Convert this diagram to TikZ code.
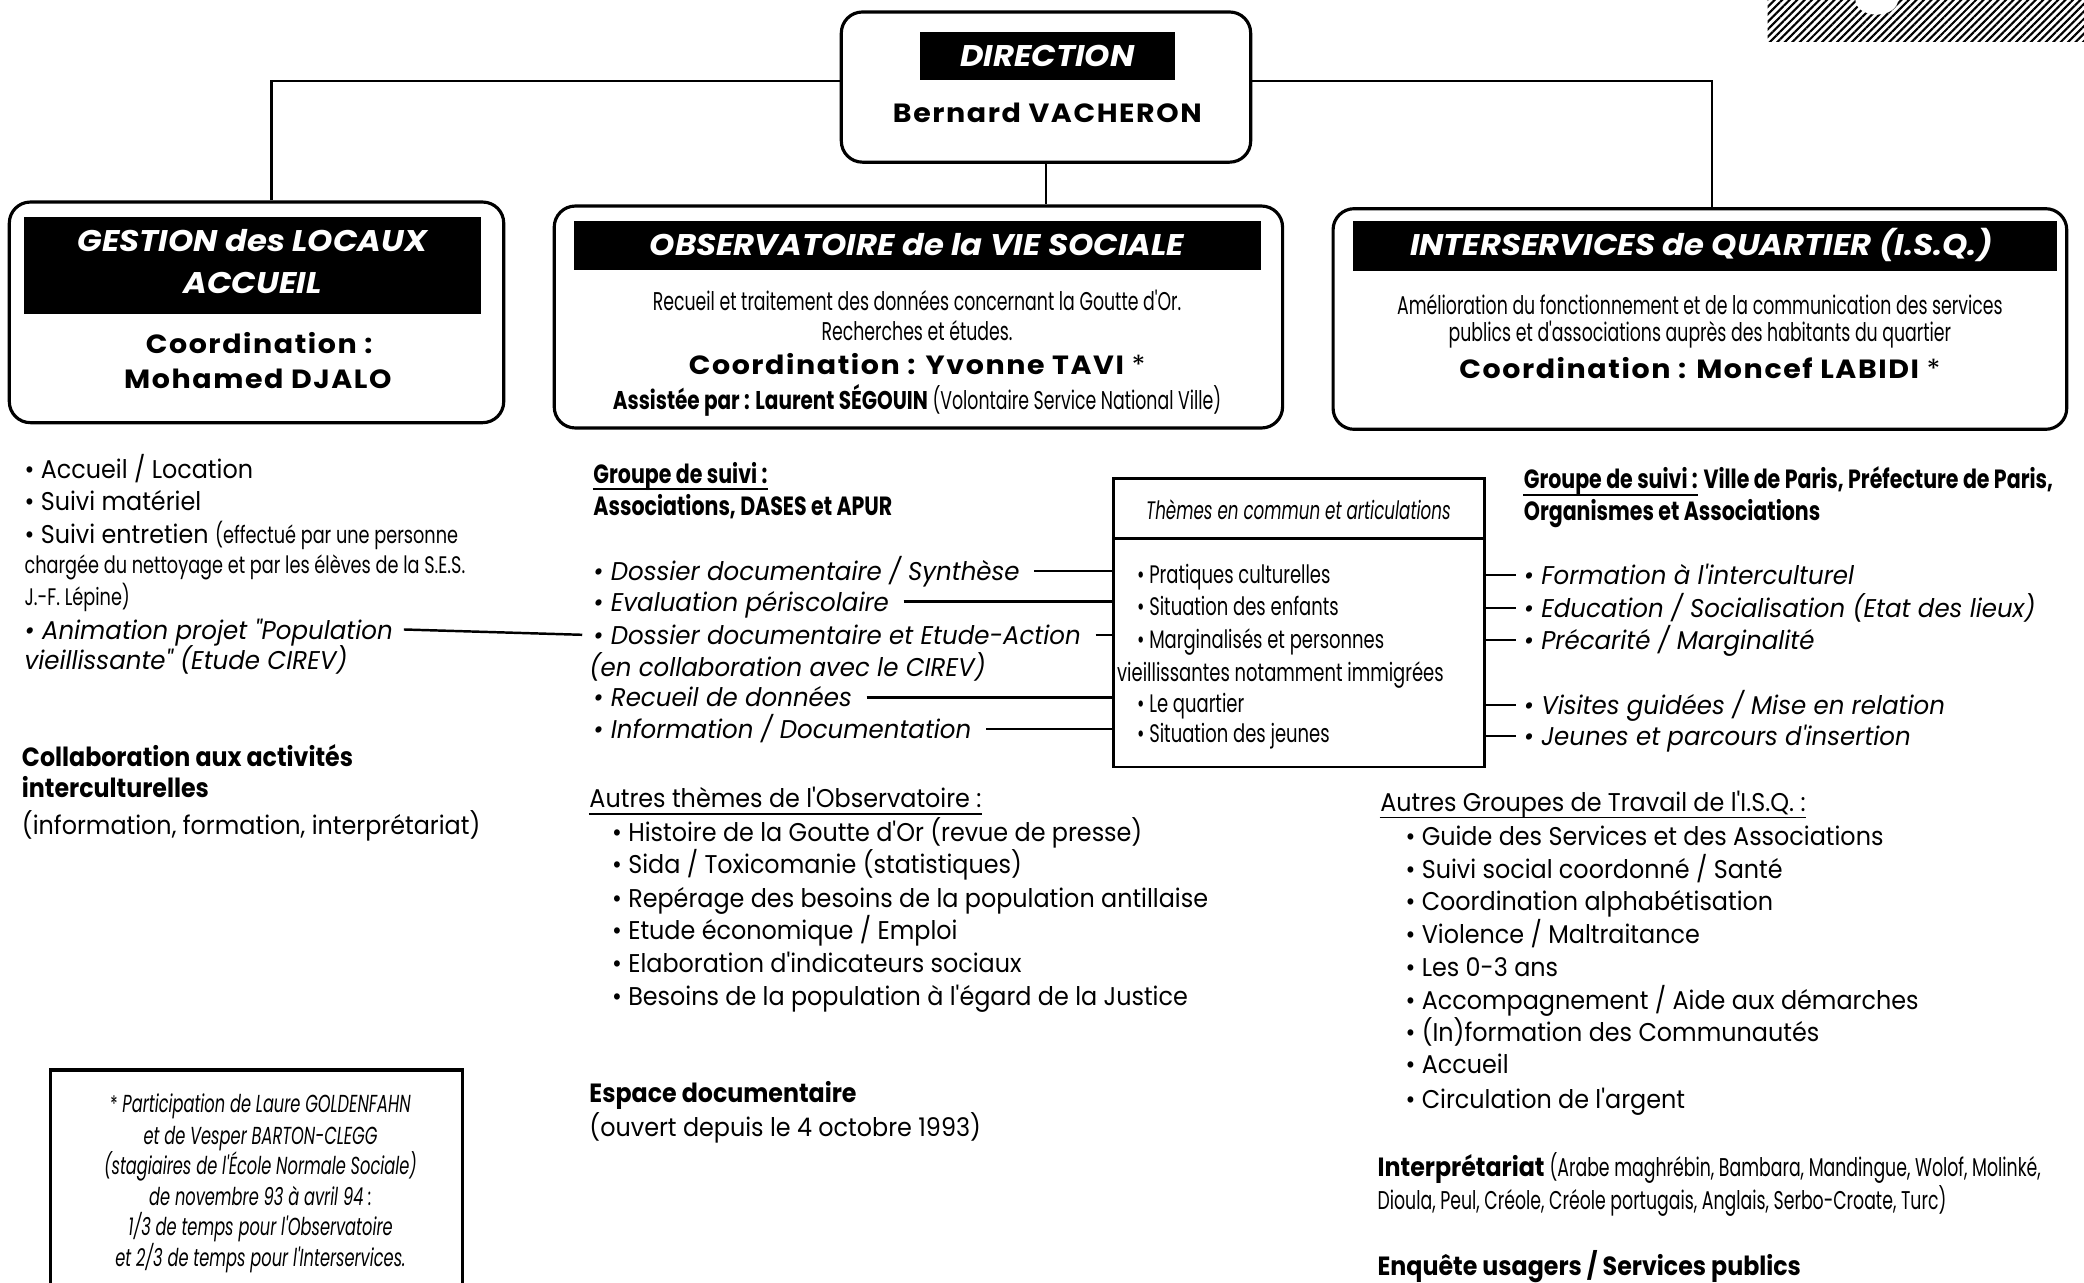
\documentclass[tikz,border=0pt]{standalone}
\usepackage{fontspec}
\setmainfont{Poppins}
\newfontfamily\fbody{Poppins}[FakeStretch=0.93]
\newfontfamily\fital{Poppins}[FakeStretch=0.955]
\newfontfamily\fcond{Poppins}[FakeStretch=0.675]
\newfontfamily\fsmall{Poppins}[FakeStretch=0.74]
\newfontfamily\fthm{Poppins}[FakeStretch=0.71]
\newfontfamily\fftn{Poppins}[FakeStretch=0.66]
\newfontfamily\fbcond{Poppins}[FakeStretch=0.78]
\newfontfamily\fbmed{Poppins}[FakeStretch=0.9]
\newfontfamily\fhead{Poppins}[FakeStretch=1.08]
\newfontfamily\fheavy{Poppins}[FakeStretch=1.08,LetterSpace=6]
\newcommand\astk{{\fontsize{7.5}{7.5}\selectfont\mdseries *}}
\usetikzlibrary{fit,patterns.meta}
\begin{document}
\begin{tikzpicture}[x=0.01329cm,y=-0.01329cm,
  rbox/.style={draw,line width=0.9pt,rounded corners=6pt,inner sep=0pt},
  sbox/.style={draw,line width=0.8pt,inner sep=0pt},
  bar/.style={fill=black,inner sep=0pt},
  headtxt/.style={text=white,font=\fhead\bfseries\itshape\fontsize{8.5}{10}\selectfont,inner sep=0pt},
  heavy/.style={font=\fheavy\bfseries\fontsize{7.5}{9}\selectfont,inner sep=0pt},
  cond/.style={font=\fcond\fontsize{7.3}{9}\selectfont,inner sep=0pt},
  body/.style={font=\fbody\fontsize{7.3}{9}\selectfont,inner sep=0pt,anchor=base west,yshift=-0.7pt},
  ital/.style={font=\fital\itshape\fontsize{7.3}{9}\selectfont,inner sep=0pt,anchor=base west,yshift=-0.7pt},
  small/.style={font=\fsmall\fontsize{6.8}{8}\selectfont,inner sep=0pt,anchor=base west,yshift=-0.7pt},
  bcond/.style={font=\fbcond\bfseries\fontsize{7.5}{9}\selectfont,inner sep=0pt,anchor=base west,yshift=-0.7pt},
  bmed/.style={font=\fbmed\bfseries\fontsize{7.5}{9}\selectfont,inner sep=0pt,anchor=base west,yshift=-0.7pt},
  thm/.style={font=\fthm\fontsize{7.2}{9}\selectfont,inner sep=0pt,anchor=base west,yshift=-0.7pt},
  thmh/.style={font=\fftn\itshape\fontsize{7.2}{9}\selectfont,inner sep=0pt,anchor=base,yshift=-0.7pt},
  ftn/.style={font=\fftn\itshape\fontsize{7}{9}\selectfont,inner sep=0pt,anchor=base,yshift=-0.7pt},
  ul/.style={line width=0.55pt},
  conn/.style={line width=0.7pt}]
\useasboundingbox (0,0) rectangle (1568,965);

% hatched corner
\fill[pattern={Lines[angle=45,distance=1.5pt,line width=0.6pt]}] (1330,0) rectangle (1568,31);
\fill[white] (1412,0) ellipse [x radius=16, y radius=11];

% DIRECTION
\node[rbox,fit={(633,9)(941,122)}] (dir) {};
\node[bar,fit={(692,24)(884,60)}] (dirbar) {};
\node[headtxt] (dirt) at (dirbar.center) {DIRECTION};
\node[heavy] (dirn) at (788,85) {Bernard VACHERON};

% GESTION
\node[rbox,fit={(7,152)(379,318)}] (gest) {};
\node[bar,fit={(18,163)(362,236)}] (gestbar) {};
\node[headtxt] (gestt1) at (190,181) {GESTION des LOCAUX};
\node[headtxt] (gestt2) at (190,213) {ACCUEIL};
\node[heavy] (gestc1) at (195,258) {Coordination :};
\node[heavy] (gestc2) at (194,285) {Mohamed DJALO};

% OBSERVATOIRE
\node[rbox,fit={(417,155)(965,322)}] (obs) {};
\node[bar,fit={(432,166)(949,203)}] (obsbar) {};
\node[headtxt] (obst) at (690,184) {OBSERVATOIRE de la VIE SOCIALE};
\node[cond] (obs1) at (690,226) {Recueil et traitement des données concernant la Goutte d'Or.};
\node[cond] (obs2) at (690,249) {Recherches et études.};
\node[heavy] (obs3) at (690,274) {Coordination : Yvonne TAVI \astk};
\node[cond] (obs4) at (690,301) {{\fbcond\bfseries Assistée par : Laurent SÉGOUIN} (Volontaire Service National Ville)};

% ISQ
\node[rbox,fit={(1003,157)(1555,323)}] (isq) {};
\node[bar,fit={(1018,166)(1548,204)}] (isqbar) {};
\node[headtxt] (isqt) at (1280,184) {INTERSERVICES de QUARTIER (I.S.Q.)};
\node[cond] (isq1) at (1279,229) {Amélioration du fonctionnement et de la communication des services};
\node[cond] (isq2) at (1279,252) {publics et d'associations auprès des habitants du quartier};
\node[heavy] (isq3) at (1279,277) {Coordination : Moncef LABIDI \astk};

% connectors top
\draw[conn] ([yshift=1.7pt]dir.west) -| ([xshift=4.2pt]gest.north);
\draw[conn] ([yshift=1.7pt]dir.east) -| ([xshift=3.4pt]isq.north);
\draw[conn] (dir.south) -- (dir.south |- obs.north);

% left column
\node[body] (l1) at (18,358) {• Accueil / Location};
\node[body] (l2) at (18,382) {• Suivi matériel};
\node[body] (l3) at (18,407) {• Suivi entretien {\fsmall\fontsize{6.8}{8}\selectfont (effectué par une personne}};
\node[small] (l4) at (18,430) {chargée du nettoyage et par les élèves de la S.E.S.};
\node[small] (l5) at (18,454) {J.-F. Lépine)};
\node[ital] (l6) at (18,479) {• Animation projet "Population};
\node[ital] (l7) at (18,502) {vieillissante" (Etude CIREV)};
\node[bmed] (l8) at (16,575) {Collaboration aux activités};
\node[bmed] (l9) at (16,598) {interculturelles};
\node[body] (l10) at (16,626) {(information, formation, interprétariat)};

% footnote box
\draw[line width=1pt] (38,966) -- (38,805) coordinate (fnl) -- (348,805) coordinate (fnr) -- (348,966);
\node[ftn] (f1) at (196,835) {{\fontsize{6.5}{6.5}\selectfont\upshape *} Participation de Laure GOLDENFAHN};
\node[ftn] (f2) at (196,859) {et de Vesper BARTON-CLEGG};
\node[ftn] (f3) at (196,882) {(stagiaires de l'École Normale Sociale)};
\node[ftn] (f4) at (196,905) {de novembre 93 à avril 94 :};
\node[ftn] (f5) at (196,928) {1/3 de temps pour l'Observatoire};
\node[ftn] (f6) at (196,951) {et 2/3 de temps pour l'Interservices.};

% middle column
\node[bcond] (g1) at (446,362) {Groupe de suivi :};
\draw[ul] ([yshift=-1.6pt]g1.base west) -- ([yshift=-1.6pt]g1.base east);
\node[bcond] (g2) at (446,386) {Associations, DASES et APUR};
\node[ital] (m1) at (446,435) {• Dossier documentaire / Synthèse};
\node[ital] (m2) at (446,458) {• Evaluation périscolaire};
\node[ital] (m3) at (446,483) {• Dossier documentaire et Etude-Action};
\node[ital] (m4) at (443,507) {(en collaboration avec le CIREV)};
\node[ital] (m5) at (446,530) {• Recueil de données};
\node[ital] (m6) at (446,554) {• Information / Documentation};

% themes box
\node[sbox,fit={(838,360)(1117,577)}] (th) {};
\coordinate (thd) at (838,405);
\draw[line width=0.8pt] (thd) -- (thd -| th.east);
\node[thmh] (th0) at (977,389) {Thèmes en commun et articulations};
\node[thm] (t1) at (855,437) {• Pratiques culturelles};
\node[thm] (t2) at (855,461) {• Situation des enfants};
\node[thm] (t3) at (855,486) {• Marginalisés et personnes};
\node[thm] (t4) at (840,511) {vieillissantes notamment immigrées};
\node[thm] (t5) at (855,534) {• Le quartier};
\node[thm] (t6) at (855,557) {• Situation des jeunes};

% right column
\node[bcond] (h1) at (1146,366) {Groupe de suivi :};
\draw[ul] ([yshift=-1.6pt]h1.base west) -- ([yshift=-1.6pt]h1.base east);
\node[bcond,yshift=0.7pt] (h1b) at (h1.base east) {\ Ville de Paris, Préfecture de Paris,};
\node[bcond] (h2) at (1146,390) {Organismes et Associations};
\node[ital] (r1) at (1146,438) {• Formation à l'interculturel};
\node[ital] (r2) at (1146,463) {• Education / Socialisation (Etat des lieux)};
\node[ital] (r3) at (1146,487) {• Précarité / Marginalité};
\node[ital] (r4) at (1146,536) {• Visites guidées / Mise en relation};
\node[ital] (r5) at (1146,559) {• Jeunes et parcours d'insertion};

% connectors to themes box
\draw[conn] ([xshift=3pt]l6.mid east) -- ([xshift=-3pt]m3.mid west);
\foreach \n in {m1,m2,m3,m5,m6} \draw[conn] ([xshift=4pt]\n.mid east) -- (\n.mid east -| th.west);
\foreach \n in {r1,r2,r3,r4,r5} \draw[conn] (\n.mid west -| th.east) -- ([xshift=-2pt]\n.mid west);

% middle lower
\node[body] (o0) at (443,606) {Autres thèmes de l'Observatoire :};
\draw[ul] ([yshift=-1.6pt]o0.base west) -- ([yshift=-1.6pt]o0.base east);
\node[body] (o1) at (460,631) {• Histoire de la Goutte d'Or (revue de presse)};
\node[body] (o2) at (460,655) {• Sida / Toxicomanie (statistiques)};
\node[body] (o3) at (460,681) {• Repérage des besoins de la population antillaise};
\node[body] (o4) at (460,705) {• Etude économique / Emploi};
\node[body] (o5) at (460,730) {• Elaboration d'indicateurs sociaux};
\node[body] (o6) at (460,755) {• Besoins de la population à l'égard de la Justice};
\node[bmed] (e1) at (443,828) {Espace documentaire};
\node[body] (e2) at (443,853) {(ouvert depuis le 4 octobre 1993)};

% right lower
\node[body] (a0) at (1038,609) {Autres Groupes de Travail de l'I.S.Q. :};
\draw[ul] ([yshift=-1.6pt]a0.base west) -- ([yshift=-1.6pt]a0.base east);
\node[body] (a1) at (1057,634) {• Guide des Services et des Associations};
\node[body] (a2) at (1057,659) {• Suivi social coordonné / Santé};
\node[body] (a3) at (1057,683) {• Coordination alphabétisation};
\node[body] (a4) at (1057,708) {• Violence / Maltraitance};
\node[body] (a5) at (1057,733) {• Les 0-3 ans};
\node[body] (a6) at (1057,758) {• Accompagnement / Aide aux démarches};
\node[body] (a7) at (1057,782) {• (In)formation des Communautés};
\node[body] (a8) at (1057,806) {• Accueil};
\node[body] (a9) at (1057,832) {• Circulation de l'argent};
\node[bmed] (i1) at (1036,883) {Interprétariat {\fcond\mdseries\fontsize{7.3}{9}\selectfont (Arabe maghrébin, Bambara, Mandingue, Wolof, Molinké,}};
\node[body] (i2) at (1036,908) {\fcond Dioula, Peul, Créole, Créole portugais, Anglais, Serbo-Croate, Turc)};
\node[bmed] (q1) at (1036,958) {Enquête usagers / Services publics};
\end{tikzpicture}
\end{document}
